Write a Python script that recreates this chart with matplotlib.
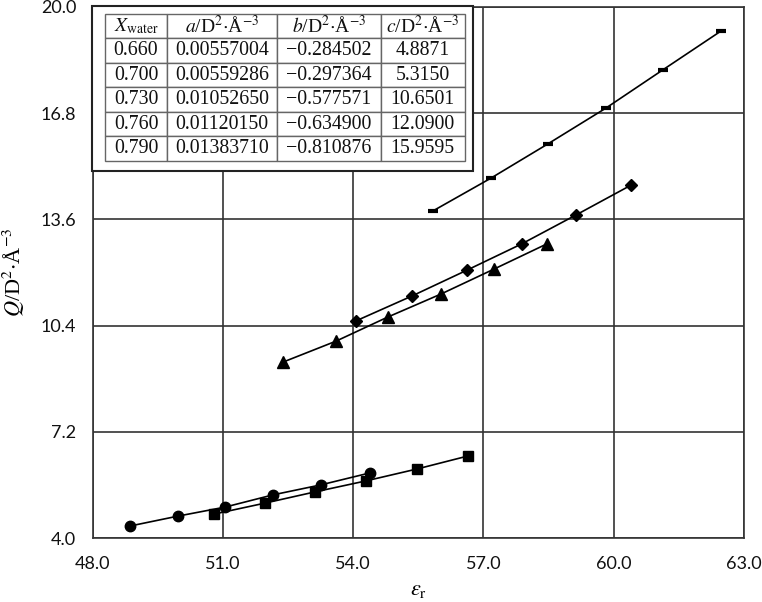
import matplotlib
matplotlib.use("Agg")
import matplotlib.pyplot as plt
from matplotlib.patches import Rectangle

# fit coefficients shown in the table
x_water = ["0.660", "0.700", "0.730", "0.760", "0.790"]
coef_a = ["0.00557004", "0.00559286", "0.01052650", "0.01120150", "0.01383710"]
coef_b = ["\u22120.284502", "\u22120.297364", "\u22120.577571", "\u22120.634900", "\u22120.810876"]
coef_c = ["4.8871", "5.3150", "10.6501", "12.0900", "15.9595"]

# data
eps_066 = [48.85, 49.96, 51.04, 52.15, 53.25, 54.38]
q_066 = [4.36, 4.66, 4.93, 5.30, 5.60, 5.96]
eps_070 = [50.79, 51.96, 53.12, 54.29, 55.47, 56.64]
q_070 = [4.72, 5.05, 5.39, 5.72, 6.08, 6.47]
eps_073 = [52.38, 53.60, 54.80, 56.02, 57.24, 58.46]
q_073 = [9.30, 9.93, 10.66, 11.35, 12.10, 12.86]
eps_076 = [54.06, 55.35, 56.62, 57.88, 59.13, 60.40]
q_076 = [10.54, 11.29, 12.07, 12.86, 13.73, 14.63]
eps_079 = [55.83, 57.17, 58.48, 59.82, 61.13, 62.47]
q_079 = [13.85, 14.84, 15.87, 16.95, 18.10, 19.27]

xticks = [48.0, 51.0, 54.0, 57.0, 60.0, 63.0]
yticks = [4.0, 7.2, 10.4, 13.6, 16.8, 20.0]

plt.rcParams["mathtext.fontset"] = "stix"
serif = ["Liberation Serif", "DejaVu Serif"]

fig = plt.figure(figsize=(7.62, 6.02), dpi=100)
ax = fig.add_axes([0.122, 0.1063, 0.854, 0.8821])

series = [
    (eps_066, q_066, "o", 7.5, 1),
    (eps_070, q_070, "s", 6.8, 1),
    (eps_073, q_073, "^", 8, 1),
    (eps_076, q_076, "D", 5.8, 1),
    (eps_079, q_079, "_", 7.5, 3),
]
for xs, ys, m, ms, mew in series:
    ax.plot(xs, ys, color="black", lw=1.2, marker=m, ms=ms, mew=mew,
            mfc="black", mec="black", zorder=3)

ax.set_xlim(48, 63)
ax.set_ylim(4, 20)
ax.set_xticks(xticks)
ax.set_yticks(yticks)
ax.set_xticklabels(["%.1f" % v for v in xticks])
ax.set_yticklabels(["%.1f" % v for v in yticks])
ax.grid(True, color="#333333", lw=1.2, zorder=1)
ax.tick_params(length=0, labelsize=13, colors="#111111")
ax.tick_params(axis="x", pad=13)
ax.tick_params(axis="y", pad=12)
for lab in ax.get_xticklabels() + ax.get_yticklabels():
    lab.set_family("Lato")
for s in ax.spines.values():
    s.set_color("#333333")
    s.set_linewidth(1.2)

ax.set_xlabel(r"$\varepsilon_{\mathrm{r}}$", fontsize=16, labelpad=6)
ax.set_ylabel(r"$Q$/D$^{2}$$\cdot$Å$^{-3}$", fontsize=16, family=serif, labelpad=10)

# outer box behind the table
box = Rectangle((-0.0015, 0.691), 0.585, 0.311, transform=ax.transAxes,
                facecolor="white", edgecolor="#222222", lw=1.5, zorder=5,
                clip_on=False)
ax.add_patch(box)

header = [r"$X_{\mathrm{water}}$", r"$a$/D$^{2}$$\cdot$Å$^{-3}$",
          r"$b$/D$^{2}$$\cdot$Å$^{-3}$", r"$c$/D$^{2}$$\cdot$Å$^{-3}$"]
rows = [list(r) for r in zip(x_water, coef_a, coef_b, coef_c)]
widths = [62, 110, 103, 84]
tot = sum(widths)
tbl = ax.table(cellText=rows, colLabels=header, cellLoc="center",
               colWidths=[w / tot for w in widths],
               bbox=[0.0184, 0.71, 0.553, 0.2768], zorder=6)
tbl.auto_set_font_size(False)
for (r, c), cell in tbl.get_celld().items():
    cell.set_edgecolor("#666666")
    cell.set_linewidth(1.0)
    cell.set_facecolor("white")
    t = cell.get_text()
    t.set_fontsize(14.3 if r > 0 else 14)
    t.set_family(serif)
    t.set_color("#111111")

fig.savefig("out.png", dpi=100)
